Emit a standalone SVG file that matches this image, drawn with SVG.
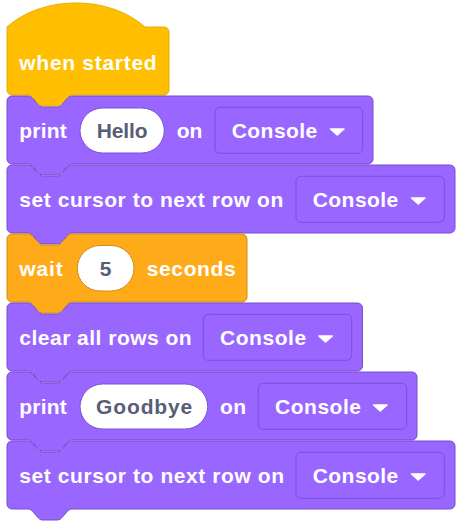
<svg xmlns="http://www.w3.org/2000/svg" width="471" height="530" viewBox="0 0 471 530">
<style>
.txt{font-family:"Liberation Sans",Arial,sans-serif;font-weight:bold;font-size:21px;fill:#fff}
.val{font-family:"Liberation Sans",Arial,sans-serif;font-weight:bold;font-size:21px;fill:#575E75}
.looks{fill:#9966FF;stroke:#774DCB;stroke-width:1}
.hat{fill:#FFBF00;stroke:#E6AC00;stroke-width:1}
.ctrl{fill:#FFAB19;stroke:#CF8B17;stroke-width:1}
.dd{fill:#9966FF;stroke:#7A50D6;stroke-width:1}
.ovl{fill:#fff;stroke:#7A50D6;stroke-width:1}
.ovc{fill:#fff;stroke:#CF8B17;stroke-width:1}
.tri{fill:#fff;stroke:#fff;stroke-width:1.5;stroke-linejoin:round}
</style>
<g id="connectors"></g>
<g id="when-started">
<path class="hat" d="M7,27 c36,-32 102,-32 138,0 H164 a5,5 0 0 1 5,5 V90 a5,5 0 0 1 -5,5 H72 c-2.5,0 -3.7,1.4 -5,2.75 l-4.7,5.5 c-1.3,1.4 -2.5,2.75 -5,2.75 h-14.6 c-2.5,0 -3.7,-1.35 -5,-2.75 l-4.7,-5.5 c-1.3,-1.4 -2.5,-2.75 -5,-2.75 H12 a5,5 0 0 1 -5,-5 Z"/>
<text class="txt" x="19.3" y="70" textLength="137.4" lengthAdjust="spacing">when started</text>
</g>
<g id="print-hello" transform="translate(0,96)">
<path class="looks" d="M7,5 a5,5 0 0 1 5,-5 H28 c2.5,0 3.7,1.4 5,2.75 l4.7,5.5 c1.3,1.4 2.5,2.75 5,2.75 h14.6 c2.5,0 3.7,-1.35 5,-2.75 l4.7,-5.5 c1.3,-1.4 2.5,-2.75 5,-2.75 H368 a5,5 0 0 1 5,5 V63 a5,5 0 0 1 -5,5 H72 c-2.5,0 -3.7,1.4 -5,2.75 l-4.7,5.5 c-1.3,1.4 -2.5,2.75 -5,2.75 h-14.6 c-2.5,0 -3.7,-1.35 -5,-2.75 l-4.7,-5.5 c-1.3,-1.4 -2.5,-2.75 -5,-2.75 H12 a5,5 0 0 1 -5,-5 Z"/>
<text class="txt" x="19.3" y="41.7" textLength="47.4" lengthAdjust="spacing">print</text>
<rect class="ovl" x="80" y="12" width="84.3" height="45" rx="22.5"/>
<text class="val" x="96.7" y="41.7" textLength="51" lengthAdjust="spacing">Hello</text>
<text class="txt" x="176.7" y="41.7" textLength="25.6" lengthAdjust="spacing">on</text>
<rect class="dd" x="215" y="11.3" width="147.7" height="46" rx="5"/>
<text class="txt" x="231.7" y="41.7" textLength="85.6" lengthAdjust="spacing">Console</text>
<path class="tri" d="M330.5,33 h13.5 l-6.75,6 z"/>
</g>
<g id="set-cursor-1" transform="translate(0,165)">
<path class="looks" d="M7,5 a5,5 0 0 1 5,-5 H28 c2.5,0 3.7,1.4 5,2.75 l4.7,5.5 c1.3,1.4 2.5,2.75 5,2.75 h14.6 c2.5,0 3.7,-1.35 5,-2.75 l4.7,-5.5 c1.3,-1.4 2.5,-2.75 5,-2.75 H450 a5,5 0 0 1 5,5 V63 a5,5 0 0 1 -5,5 H72 c-2.5,0 -3.7,1.4 -5,2.75 l-4.7,5.5 c-1.3,1.4 -2.5,2.75 -5,2.75 h-14.6 c-2.5,0 -3.7,-1.35 -5,-2.75 l-4.7,-5.5 c-1.3,-1.4 -2.5,-2.75 -5,-2.75 H12 a5,5 0 0 1 -5,-5 Z"/>
<text class="txt" x="19.3" y="41.7" textLength="264" lengthAdjust="spacing">set cursor to next row on</text>
<rect class="dd" x="296" y="11.3" width="148.3" height="46" rx="5"/>
<text class="txt" x="312.7" y="41.7" textLength="85.6" lengthAdjust="spacing">Console</text>
<path class="tri" d="M411.5,33 h13.5 l-6.75,6 z"/>
</g>
<g id="wait-5" transform="translate(0,234)">
<path class="ctrl" d="M7,5 a5,5 0 0 1 5,-5 H28 c2.5,0 3.7,1.4 5,2.75 l4.7,5.5 c1.3,1.4 2.5,2.75 5,2.75 h14.6 c2.5,0 3.7,-1.35 5,-2.75 l4.7,-5.5 c1.3,-1.4 2.5,-2.75 5,-2.75 H242 a5,5 0 0 1 5,5 V63 a5,5 0 0 1 -5,5 H72 c-2.5,0 -3.7,1.4 -5,2.75 l-4.7,5.5 c-1.3,1.4 -2.5,2.75 -5,2.75 h-14.6 c-2.5,0 -3.7,-1.35 -5,-2.75 l-4.7,-5.5 c-1.3,-1.4 -2.5,-2.75 -5,-2.75 H12 a5,5 0 0 1 -5,-5 Z"/>
<text class="txt" x="19.3" y="41.7" textLength="43.4" lengthAdjust="spacing">wait</text>
<rect class="ovc" x="77.3" y="11.5" width="56.7" height="45.5" rx="22.75"/>
<text class="val" x="105.6" y="41.7" text-anchor="middle">5</text>
<text class="txt" x="146.7" y="41.7" textLength="89" lengthAdjust="spacing">seconds</text>
</g>
<g id="clear-rows" transform="translate(0,303)">
<path class="looks" d="M7,5 a5,5 0 0 1 5,-5 H28 c2.5,0 3.7,1.4 5,2.75 l4.7,5.5 c1.3,1.4 2.5,2.75 5,2.75 h14.6 c2.5,0 3.7,-1.35 5,-2.75 l4.7,-5.5 c1.3,-1.4 2.5,-2.75 5,-2.75 H357.5 a5,5 0 0 1 5,5 V63 a5,5 0 0 1 -5,5 H72 c-2.5,0 -3.7,1.4 -5,2.75 l-4.7,5.5 c-1.3,1.4 -2.5,2.75 -5,2.75 h-14.6 c-2.5,0 -3.7,-1.35 -5,-2.75 l-4.7,-5.5 c-1.3,-1.4 -2.5,-2.75 -5,-2.75 H12 a5,5 0 0 1 -5,-5 Z"/>
<text class="txt" x="19.3" y="41.7" textLength="172.4" lengthAdjust="spacing">clear all rows on</text>
<rect class="dd" x="203.3" y="11.3" width="148.4" height="46" rx="5"/>
<text class="txt" x="220" y="41.7" textLength="86.2" lengthAdjust="spacing">Console</text>
<path class="tri" d="M318.8,33 h13.5 l-6.75,6 z"/>
</g>
<g id="print-goodbye" transform="translate(0,372)">
<path class="looks" d="M7,5 a5,5 0 0 1 5,-5 H28 c2.5,0 3.7,1.4 5,2.75 l4.7,5.5 c1.3,1.4 2.5,2.75 5,2.75 h14.6 c2.5,0 3.7,-1.35 5,-2.75 l4.7,-5.5 c1.3,-1.4 2.5,-2.75 5,-2.75 H412 a5,5 0 0 1 5,5 V63 a5,5 0 0 1 -5,5 H72 c-2.5,0 -3.7,1.4 -5,2.75 l-4.7,5.5 c-1.3,1.4 -2.5,2.75 -5,2.75 h-14.6 c-2.5,0 -3.7,-1.35 -5,-2.75 l-4.7,-5.5 c-1.3,-1.4 -2.5,-2.75 -5,-2.75 H12 a5,5 0 0 1 -5,-5 Z"/>
<text class="txt" x="19.3" y="41.7" textLength="47.4" lengthAdjust="spacing">print</text>
<rect class="ovl" x="80" y="12" width="127.7" height="45" rx="22.5"/>
<text class="val" x="96" y="41.7" textLength="96.3" lengthAdjust="spacing">Goodbye</text>
<text class="txt" x="220" y="41.7" textLength="26" lengthAdjust="spacing">on</text>
<rect class="dd" x="258.3" y="11.3" width="148.4" height="46" rx="5"/>
<text class="txt" x="275" y="41.7" textLength="86" lengthAdjust="spacing">Console</text>
<path class="tri" d="M373.5,33 h13.5 l-6.75,6 z"/>
</g>
<g id="set-cursor-2" transform="translate(0,441)">
<path class="looks" d="M7,5 a5,5 0 0 1 5,-5 H28 c2.5,0 3.7,1.4 5,2.75 l4.7,5.5 c1.3,1.4 2.5,2.75 5,2.75 h14.6 c2.5,0 3.7,-1.35 5,-2.75 l4.7,-5.5 c1.3,-1.4 2.5,-2.75 5,-2.75 H450 a5,5 0 0 1 5,5 V63 a5,5 0 0 1 -5,5 H72 c-2.5,0 -3.7,1.4 -5,2.75 l-4.7,5.5 c-1.3,1.4 -2.5,2.75 -5,2.75 h-14.6 c-2.5,0 -3.7,-1.35 -5,-2.75 l-4.7,-5.5 c-1.3,-1.4 -2.5,-2.75 -5,-2.75 H12 a5,5 0 0 1 -5,-5 Z"/>
<text class="txt" x="19.3" y="41.7" textLength="264.7" lengthAdjust="spacing">set cursor to next row on</text>
<rect class="dd" x="296" y="11.3" width="148.3" height="46" rx="5"/>
<text class="txt" x="312.7" y="41.7" textLength="85.6" lengthAdjust="spacing">Console</text>
<path class="tri" d="M411.5,33 h13.5 l-6.75,6 z"/>
</g>
</svg>
